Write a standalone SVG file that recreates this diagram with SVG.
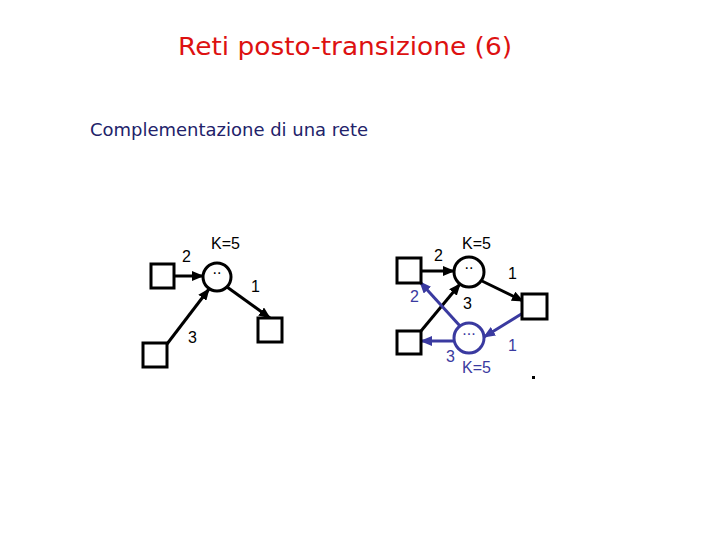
<svg xmlns="http://www.w3.org/2000/svg" width="720" height="540" viewBox="0 0 720 540">
<defs>
<marker id="ak" markerUnits="userSpaceOnUse" markerWidth="12" markerHeight="10" refX="11" refY="5" orient="auto"><path d="M0,0 L12,5 L0,10 Z" fill="#000"/></marker>
<marker id="ab" markerUnits="userSpaceOnUse" markerWidth="12" markerHeight="10" refX="11" refY="5" orient="auto"><path d="M0,0 L12,5 L0,10 Z" fill="#3a3aa0"/></marker>
<style>
.t{font-family:"Liberation Sans",Arial,sans-serif;font-size:16px;fill:#000}
.tb{font-family:"Liberation Sans",Arial,sans-serif;font-size:16px;fill:#3a3aa0}
.box{fill:#fff;stroke:#000;stroke-width:3}
.pl{fill:#fff;stroke:#000;stroke-width:3}
.plb{fill:#fff;stroke:#3a3aa0;stroke-width:3}
.ek{stroke:#000;stroke-width:3;fill:none;marker-end:url(#ak)}
.eb{stroke:#3a3aa0;stroke-width:3;fill:none;marker-end:url(#ab)}
</style>
</defs>
<rect width="720" height="540" fill="#fff"/>
<text x="178" y="55" font-family="'DejaVu Sans',sans-serif" font-size="24" fill="#dd1111" textLength="334" lengthAdjust="spacingAndGlyphs">Reti posto-transizione (6)</text>
<text x="90" y="136" font-family="'DejaVu Sans',sans-serif" font-size="18" fill="#22226a" textLength="278" lengthAdjust="spacingAndGlyphs">Complementazione di una rete</text>
<g id="connectors">
<line class="ek" x1="174" y1="276" x2="203" y2="276"/>
<line class="ek" x1="227" y1="287" x2="270" y2="318"/>
<line class="ek" x1="167" y1="344" x2="209" y2="289"/>
<line class="ek" x1="421" y1="271" x2="454" y2="271"/>
<line class="ek" x1="482" y1="281" x2="523" y2="301"/>
<line class="ek" x1="421" y1="331" x2="460" y2="284"/>
<line class="eb" x1="460" y1="326" x2="420" y2="282"/>
<line class="eb" x1="523" y1="313" x2="484" y2="337"/>
<line class="eb" x1="454" y1="341" x2="421" y2="341"/>
</g>
<g id="L_P"><circle class="pl" cx="217" cy="277" r="14"/><text x="217" y="274" class="t" font-size="12" text-anchor="middle">..</text></g>
<g id="L_T1"><rect class="box" x="151" y="264" width="23" height="24"/></g>
<g id="L_T2"><rect class="box" x="258" y="318" width="24" height="24"/></g>
<g id="L_T3"><rect class="box" x="143" y="343" width="24" height="24"/></g>
<g id="L_labels">
<text class="t" x="182" y="262">2</text>
<text class="t" x="211" y="249">K=5</text>
<text class="t" x="251" y="292">1</text>
<text class="t" x="188" y="343">3</text>
</g>
<g id="R_P"><circle class="pl" cx="469" cy="272" r="15"/><text x="469" y="269" class="t" font-size="12" text-anchor="middle">..</text></g>
<g id="R_Pc"><circle class="plb" cx="469" cy="338" r="15"/><text x="469" y="335" class="tb" font-size="12" text-anchor="middle">...</text></g>
<g id="R_T1"><rect class="box" x="397" y="258" width="24" height="25"/></g>
<g id="R_T2"><rect class="box" x="522" y="294" width="25" height="25"/></g>
<g id="R_T3"><rect class="box" x="397" y="331" width="24" height="23"/></g>
<g id="R_labels">
<text class="t" x="434" y="261">2</text>
<text class="t" x="462" y="249">K=5</text>
<text class="t" x="508" y="279">1</text>
<text class="t" x="463" y="309">3</text>
<text class="tb" x="410" y="302">2</text>
<text class="tb" x="508" y="351">1</text>
<text class="tb" x="446" y="362">3</text>
<text class="tb" x="462" y="373">K=5</text>
</g>
<rect x="532" y="376" width="3" height="3" fill="#000"/>
</svg>
